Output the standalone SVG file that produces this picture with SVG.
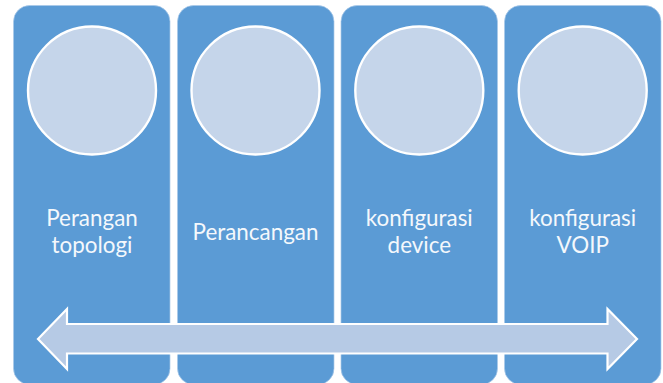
<svg xmlns="http://www.w3.org/2000/svg" width="663" height="383" viewBox="0 0 663 383">
<style>
.card{fill:#5b9bd5;stroke:#a9c8e8;stroke-width:.7}
.disc{fill:#c5d5ea;stroke:#fff;stroke-width:2.4}
.label{font-family:"Lato","Open Sans",sans-serif;font-size:22.4px;fill:#f4f8fc;text-anchor:middle}
</style>
<rect width="663" height="383" fill="#fff"/>
<g id="node-1"><rect class="card" x="13.500" y="5.500" width="156.500" height="379" rx="16"/><circle class="disc" cx="92" cy="90.500" r="64"/><text class="label" x="92" y="226">Perangan</text><text class="label" x="92" y="253">topologi</text></g>
<g id="node-2"><rect class="card" x="177.500" y="5.500" width="156.500" height="379" rx="16"/><circle class="disc" cx="255.500" cy="90.500" r="64"/><text class="label" x="255.500" y="239.500">Perancangan</text></g>
<g id="node-3"><rect class="card" x="341" y="5.500" width="156.500" height="379" rx="16"/><circle class="disc" cx="419.300" cy="90.500" r="64"/><text class="label" x="419.300" y="226">konfigurasi</text><text class="label" x="419.300" y="253">device</text></g>
<g id="node-4"><rect class="card" x="504.500" y="5.500" width="156.500" height="379" rx="16"/><circle class="disc" cx="582.700" cy="90.500" r="64"/><text class="label" x="582.700" y="226">konfigurasi</text><text class="label" x="582.700" y="253">VOIP</text></g>
<g id="connectors"><path d="M38 339 L67 309 V324 H607.500 V309 L637 339 L607.500 369 V353.500 H67 V369 Z" fill="#b6cae5" stroke="#fff" stroke-width="2.200"/></g>
</svg>
